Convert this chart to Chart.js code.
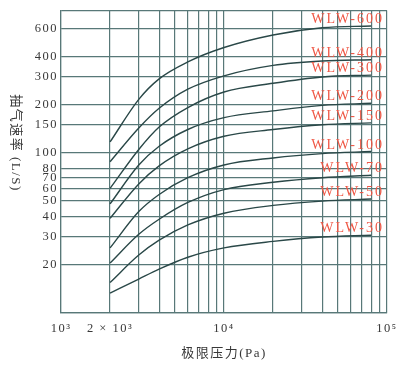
<!DOCTYPE html>
<html>
<head>
<meta charset="utf-8">
<script src="https://cdn.jsdelivr.net/npm/chart.js@4"></script>
<style>
  html, body { margin: 0; padding: 0; background: #fff; }
  #wrap { width: 415px; height: 376px; }
</style>
</head>
<body>
<div id="wrap"><canvas id="pumpChart" width="415" height="376"></canvas></div>
<script>
// ultimate pressure (Pa) where speeds were read
const pressures = [2000, 3000, 4000, 6000, 10000, 20000, 40000, 80000];

// pumping speed (L/S) per model
const speed600 = [117, 216, 290, 370, 455, 545, 605, 620];
const speed400 = [88, 143, 190, 250, 303, 352, 375, 382];
const speed300 = [60, 105, 145, 192, 240, 272, 298, 306];
const speed200 = [48, 84, 110, 140, 166, 183, 198, 204];
const speed150 = [39, 64, 83, 106, 127, 140, 150, 154];
const speed100 = [25.5, 43, 55, 70, 84, 93, 99, 102];
const speed70 = [20.5, 31, 38.5, 49, 59, 65.5, 70, 72.5];
const speed50 = [15.5, 23, 28.5, 35.5, 42, 47, 50, 51.5];
const speed30 = [13.3, 16.3, 18.8, 22.3, 25.5, 28, 29.8, 30.6];

const models = ['WLW-600', 'WLW-400', 'WLW-300', 'WLW-200', 'WLW-150', 'WLW-100', 'WLW-70', 'WLW-50', 'WLW-30'];
const speeds = [speed600, speed400, speed300, speed200, speed150, speed100, speed70, speed50, speed30];

const xTicks = [1000, 2000, 3000, 4000, 5000, 6000, 7000, 8000, 9000,
                10000, 20000, 30000, 40000, 50000, 60000, 70000, 80000, 90000, 100000];
const xTickLabels = ['10³', '2 × 10³', '', '', '', '', '', '', '',
                     '10⁴', '', '', '', '', '', '', '', '', '10⁵'];
const yTicks = [10, 20, 30, 40, 50, 60, 70, 80, 100, 150, 200, 300, 400, 600, 775];
const yTickLabels = ['', '20', '30', '40', '50', '60', '70', '80', '100', '150', '200', '300', '400', '600', ''];

const gridColor = '#587878';
const curveColor = '#2a4848';
const labelColor = '#ef5745';
const textColor = '#383838';
const serif = '"Liberation Serif", "Noto Sans CJK SC", serif';

const datasets = models.map((name, i) => ({
    label: name,
    data: pressures.map((p, j) => ({ x: p, y: speeds[i][j] })),
    borderColor: curveColor,
    borderWidth: 1.4,
    pointRadius: 0,
    fill: false,
    cubicInterpolationMode: 'monotone'
}));

const spacing = {
    id: 'spacing',
    beforeDraw(chart) { chart.ctx.letterSpacing = '1.5px'; },
    afterDraw(chart) { chart.ctx.letterSpacing = '0px'; }
};

const curveLabels = {
    id: 'curveLabels',
    afterDatasetsDraw(chart) {
        const { ctx, chartArea, scales } = chart;
        ctx.save();
        ctx.font = '14px ' + serif;
        ctx.letterSpacing = '2px';
        ctx.fillStyle = labelColor;
        ctx.textAlign = 'right';
        ctx.textBaseline = 'alphabetic';
        chart.data.datasets.forEach(ds => {
            const last = ds.data[ds.data.length - 1];
            const y = scales.y.getPixelForValue(last.y);
            ctx.fillText(ds.label, chartArea.right - 3, y - 3);
        });
        ctx.restore();
    }
};

const yTitle = {
    id: 'yTitle',
    afterDraw(chart) {
        const ctx = chart.ctx;
        ctx.save();
        ctx.font = '13px ' + serif;
        ctx.letterSpacing = '1.5px';
        ctx.fillStyle = textColor;
        ctx.textAlign = 'center';
        ctx.textBaseline = 'middle';
        ctx.translate(15, 143);
        ctx.rotate(Math.PI / 2);
        ctx.fillText('抽气速率 (L/S)', 0, 0);
        ctx.restore();
    }
};

new Chart(document.getElementById('pumpChart'), {
    type: 'line',
    data: { datasets: datasets },
    options: {
        responsive: false,
        animation: false,
        devicePixelRatio: 1,
        layout: { padding: { left: 0, top: 7, right: 28, bottom: 0 } },
        plugins: { legend: { display: false }, tooltip: { enabled: false } },
        scales: {
            x: {
                type: 'logarithmic',
                min: 1000,
                max: 100000,
                afterBuildTicks: s => { s.ticks = xTicks.map(v => ({ value: v })); },
                afterFit: s => { s.height = 63; },
                grid: { color: gridColor, lineWidth: 1.2, drawTicks: false },
                border: { color: gridColor, width: 1.2 },
                ticks: {
                    autoSkip: false,
                    maxRotation: 0,
                    padding: 8,
                    color: textColor,
                    font: { family: serif, size: 12.5 },
                    callback: (v, i) => xTickLabels[i]
                },
                title: {
                    display: true,
                    text: '极限压力(Pa)',
                    color: textColor,
                    font: { family: serif, size: 13 },
                    padding: { top: 0, bottom: 15 }
                }
            },
            y: {
                type: 'logarithmic',
                min: 10,
                max: 775,
                afterBuildTicks: s => { s.ticks = yTicks.map(v => ({ value: v })); },
                afterFit: s => { s.width = 61; },
                grid: { color: gridColor, lineWidth: 1.2, drawTicks: false },
                border: { color: gridColor, width: 1.2 },
                ticks: {
                    autoSkip: false,
                    padding: 3,
                    color: textColor,
                    font: { family: serif, size: 12.5 },
                    callback: (v, i) => yTickLabels[i]
                }
            }
        }
    },
    plugins: [spacing, curveLabels, yTitle]
});
</script>
</body>
</html>
